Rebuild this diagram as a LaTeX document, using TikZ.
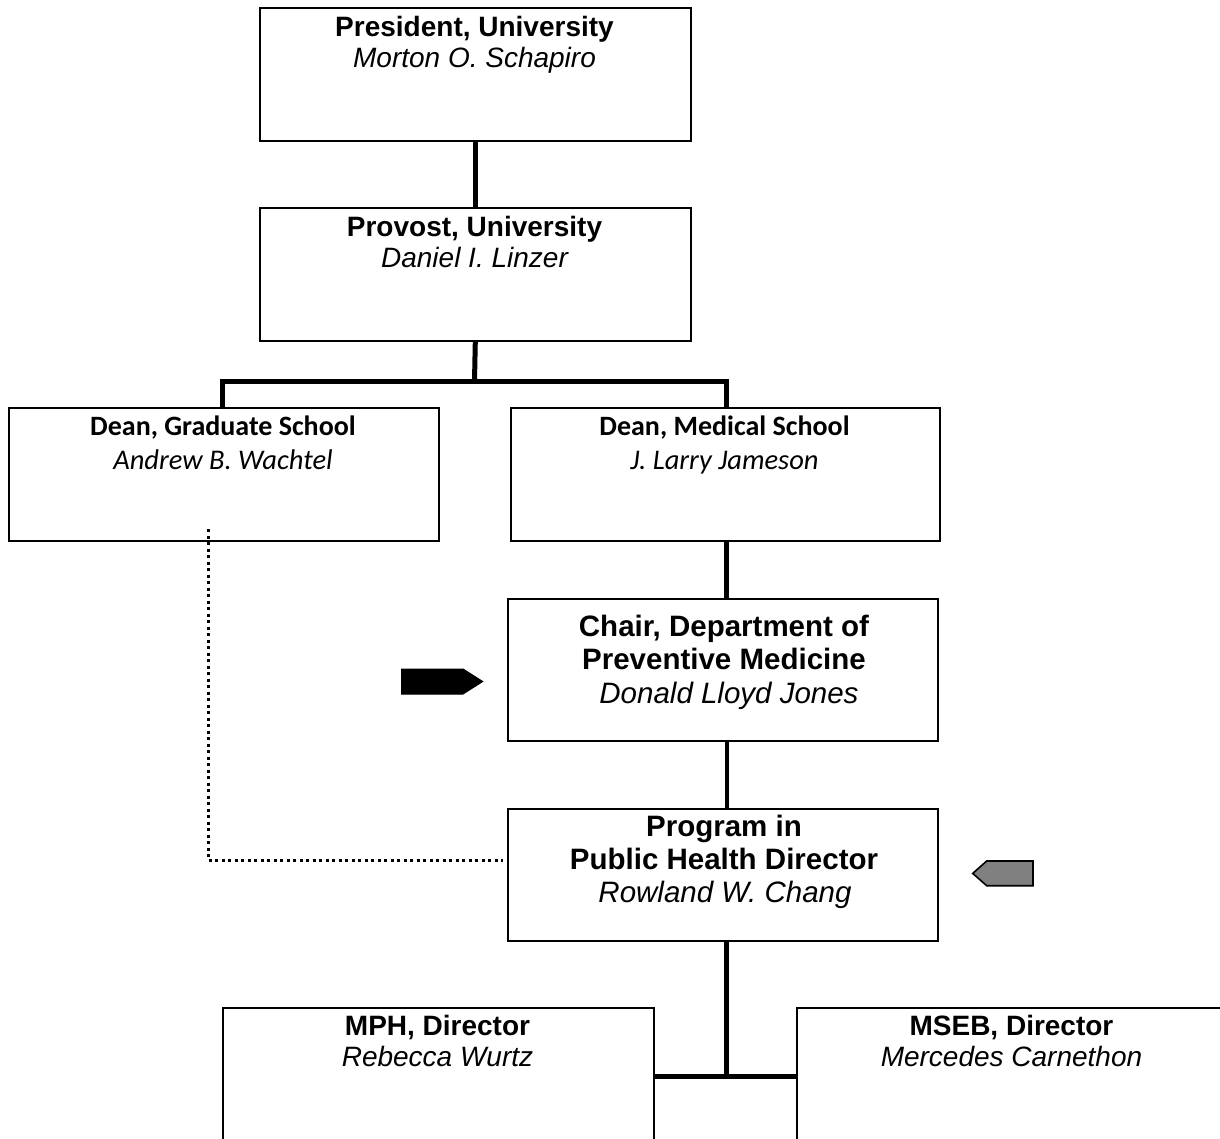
\documentclass[tikz,border=0pt]{standalone}
\usepackage{fontspec}
\setmainfont{Liberation Sans}
\newfontfamily\calfont{Carlito}
\definecolor{arrgray}{HTML}{808080}
\begin{document}
\begin{tikzpicture}[x=1pt,y=-1pt,
  box/.style={draw, line width=1.6pt, inner sep=0pt, anchor=north west,
    minimum width=431pt, minimum height=133pt},
  conn/.style={line width=5pt},
  hd/.style={anchor=base, inner sep=0pt, font=\fontsize{28}{31}\selectfont\bfseries},
  nm/.style={anchor=base, inner sep=0pt, font=\fontsize{28}{31}\selectfont\itshape},
  bhd/.style={anchor=base, inner sep=0pt, font=\fontsize{29.5}{33}\selectfont\bfseries},
  bnm/.style={anchor=base, inner sep=0pt, font=\fontsize{29.5}{33}\selectfont\itshape},
  chd/.style={anchor=base, inner sep=0pt, font=\calfont\fontsize{28}{33}\selectfont\bfseries},
  cnm/.style={anchor=base, inner sep=0pt, font=\calfont\fontsize{28.5}{33}\selectfont\itshape},
  dotline/.style={line width=3pt, dash pattern=on 3pt off 3.5pt}]
\clip (0,0) rectangle (1220,1139);
\fill[white] (0,0) rectangle (1220,1139);

% boxes
\node[box] (pres) at (259,7) {};
\node[box] (prov) at (259,207) {};
\node[box, minimum width=430pt] (dgrad) at (8,407) {};
\node[box, minimum width=429pt] (dmed) at (510,407) {};
\node[box, minimum width=430pt, minimum height=142pt] (chair) at (507,598) {};
\node[box, minimum width=430pt, minimum height=132pt] (prog) at (507,808) {};
\node[box, minimum height=200pt] (mph) at (222,1007) {};
\node[box, minimum height=200pt] (mseb) at (796,1007) {};

% texts
\node[hd] (presA) at (474.5,36.5) {President, University};
\node[nm] (presB) at (474.5,67.5) {Morton O. Schapiro};
\node[hd] (provA) at (474.5,236.5) {Provost, University};
\node[nm] (provB) at (474.5,267.5) {Daniel I. Linzer};
\node[chd] (dgradA) at (223,435.5) {Dean, Graduate School};
\node[cnm] (dgradB) at (223,469.5) {Andrew B. Wachtel};
\node[chd] (dmedA) at (724.5,435.5) {Dean, Medical School};
\node[cnm] (dmedB) at (724.5,469.5) {J. Larry Jameson};
\node[bhd] (chairA) at (724,636) {Chair, Department of};
\node[bhd] (chairB) at (724,669) {Preventive Medicine};
\node[bnm] (chairC) at (729,703) {Donald Lloyd Jones};
\node[bhd] (progA) at (724,836) {Program in};
\node[bhd] (progB) at (724,869) {Public Health Director};
\node[bnm] (progC) at (725,902) {Rowland W. Chang};
\node[hd] (mphA) at (437.5,1035.5) {MPH, Director};
\node[nm] (mphB) at (437.5,1066.5) {Rebecca Wurtz};
\node[hd] (msebA) at (1011.5,1035.5) {MSEB, Director};
\node[nm] (msebB) at (1011.5,1066.5) {Mercedes Carnethon};

% connectors
\draw[conn] (pres.south) -- (prov.north);
\coordinate (j1) at (474.5,381);
\draw[conn] (prov.south) -- (j1);
\draw[conn] ([xshift=-1pt]dgrad.north) -- ++(0,-26) -| ([xshift=1.5pt]dmed.north);
\draw[conn] ([xshift=1.5pt]dmed.south) -- ([xshift=1.5pt]dmed.south |- chair.north);
\draw[line width=4pt] ([xshift=4pt]chair.south) -- ([xshift=4pt]prog.north);
\draw[conn] ([xshift=4pt]prog.south) -- ++(0,135) coordinate (j2);
\draw[conn] (mph.east |- j2) -- (mseb.west |- j2);

% dotted link
\coordinate (d0) at (208,529);
\coordinate (dc) at (208,860);
\draw[dotline] (d0) -- (dc) -- ([xshift=-4pt]dc -| prog.west);

% pointer arrows
\draw[fill=black, line width=1pt] (401.7,669) -- (463,669) -- (482.7,681.5) -- (463,694) -- (401.7,694) -- cycle;
\draw[fill=arrgray, line width=1.6pt] (1033,861) -- (986.7,861) -- (972.7,873.4) -- (986.7,885.7) -- (1033,885.7) -- cycle;
\end{tikzpicture}
\end{document}
